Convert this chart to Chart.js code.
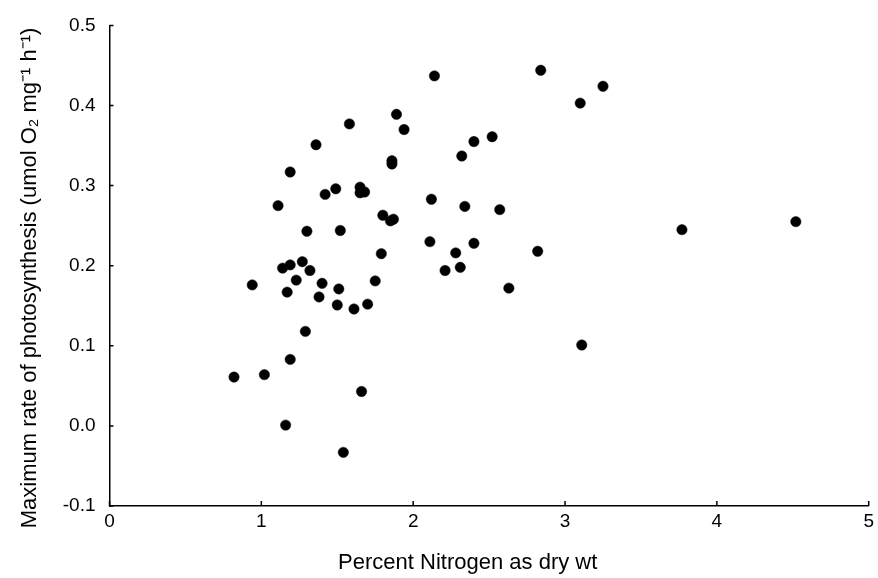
<!DOCTYPE html>
<html>
<head>
<meta charset="utf-8">
<style>
  html, body { margin: 0; padding: 0; background: #fff; }
  #wrap { width: 878px; height: 578px; }
</style>
</head>
<body>
<div id="wrap">
  <canvas id="myChart" width="878" height="578"></canvas>
</div>

<script src="https://cdn.jsdelivr.net/npm/chart.js"></script>
<script>
  // percent nitrogen (x) and max photosynthesis rate (y)
  var nitrogen = [0.82, 0.94, 1.02, 1.11, 1.14, 1.16, 1.17, 1.19, 1.19, 1.19,
                  1.23, 1.27, 1.29, 1.30, 1.32, 1.36, 1.38, 1.40, 1.42, 1.49,
                  1.50, 1.51, 1.52, 1.54, 1.58, 1.61, 1.65, 1.65, 1.66, 1.68,
                  1.70, 1.75, 1.79, 1.80, 1.85, 1.86, 1.86, 1.87, 1.89, 1.94,
                  2.11, 2.12, 2.14, 2.21, 2.28, 2.31, 2.32, 2.34, 2.40, 2.40,
                  2.52, 2.57, 2.63, 2.82, 2.84, 3.10, 3.11, 3.25, 3.77, 4.52];
  var photoRate = [0.061, 0.176, 0.064, 0.275, 0.197, 0.001, 0.167, 0.317, 0.201, 0.083,
                   0.182, 0.205, 0.118, 0.243, 0.194, 0.351, 0.161, 0.178, 0.289, 0.296,
                   0.151, 0.171, 0.244, -0.033, 0.377, 0.146, 0.291, 0.298, 0.043, 0.292,
                   0.152, 0.181, 0.215, 0.263, 0.256, 0.331, 0.327, 0.258, 0.389, 0.370,
                   0.230, 0.283, 0.437, 0.194, 0.216, 0.198, 0.337, 0.274, 0.355, 0.228,
                   0.361, 0.270, 0.172, 0.218, 0.444, 0.403, 0.101, 0.424, 0.245, 0.255];
  var xTicks = [0, 1, 2, 3, 4, 5];
  var yTicks = [-0.1, 0.0, 0.1, 0.2, 0.3, 0.4, 0.5];

  var pts = nitrogen.map(function (n, i) { return { x: n, y: photoRate[i] }; });
  var FONT = "'Liberation Sans', Arial, Helvetica, sans-serif";

  // short tick marks pointing into the plot, like the original
  var innerTicks = {
    id: 'innerTicks',
    afterDraw: function (chart) {
      var c = chart.ctx, a = chart.chartArea;
      var xs = chart.scales.x, ys = chart.scales.y;
      c.save();
      c.strokeStyle = '#000';
      c.lineWidth = 1.5;
      c.beginPath();
      xTicks.forEach(function (v) {
        var px = xs.getPixelForValue(v);
        c.moveTo(px, a.bottom);
        c.lineTo(px, a.bottom - 5);
      });
      yTicks.forEach(function (v) {
        var py = ys.getPixelForValue(v);
        c.moveTo(a.left, py);
        c.lineTo(a.left + 4, py);
      });
      c.stroke();
      c.restore();
    }
  };

  const ctx = document.getElementById('myChart');

  new Chart(ctx, {
    type: 'scatter',
    data: {
      datasets: [{
        label: 'Pmax',
        data: pts,
        backgroundColor: '#000',
        borderColor: '#111',
        borderWidth: 0.5,
        pointRadius: 5.2,
        pointHoverRadius: 5.2
      }]
    },
    plugins: [innerTicks],
    options: {
      responsive: false,
      animation: false,
      events: [],
      layout: { padding: { left: 0, top: 17, right: 7, bottom: 0 } },
      plugins: {
        legend: { display: false },
        tooltip: { enabled: false }
      },
      scales: {
        x: {
          type: 'linear',
          min: 0,
          max: 5,
          afterFit: function (s) { s.height = 72; },
          afterBuildTicks: function (s) { s.ticks = xTicks.map(function (v) { return { value: v }; }); },
          grid: { display: false, drawTicks: false },
          border: { display: true, color: '#000', width: 1.5 },
          ticks: {
            color: '#000',
            padding: 4,
            font: { family: FONT, size: 19 },
            callback: function (v) { return String(v); }
          },
          title: {
            display: true,
            // trailing spaces nudge the label left, as in the scan
            text: 'Percent Nitrogen as dry wt       ',
            color: '#000',
            font: { family: FONT, size: 22 },
            padding: { top: 0, bottom: 2 }
          }
        },
        y: {
          type: 'linear',
          min: -0.1,
          max: 0.5,
          afterFit: function (s) { s.width = 109.5; },
          afterBuildTicks: function (s) { s.ticks = yTicks.map(function (v) { return { value: v }; }); },
          grid: { display: false, drawTicks: false },
          border: { display: true, color: '#000', width: 1.5 },
          ticks: {
            color: '#000',
            padding: 14,
            font: { family: FONT, size: 19 },
            callback: function (v) { return Number(v).toFixed(1); }
          },
          title: {
            display: true,
            text: 'Maximum rate of photosynthesis (umol O\u2082 mg\u207B\u00B9 h\u207B\u00B9)    ',
            color: '#000',
            font: { family: FONT, size: 22 },
            padding: { top: 17, bottom: 0 }
          }
        }
      }
    }
  });
</script>
</body>
</html>
